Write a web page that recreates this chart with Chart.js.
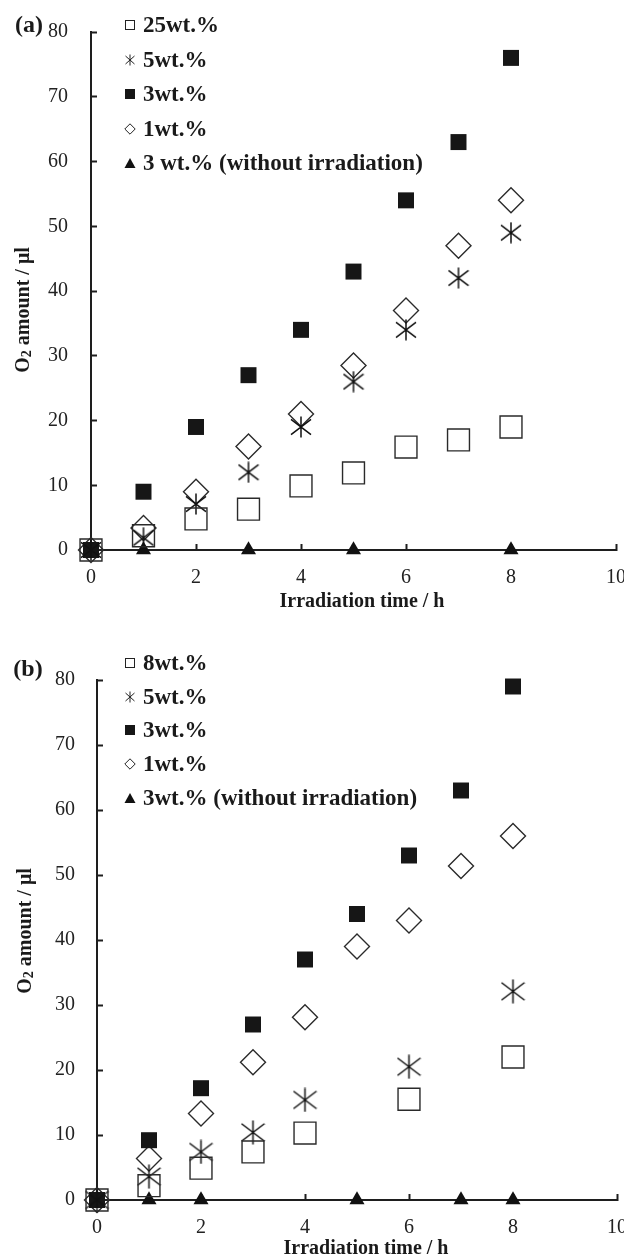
<!DOCTYPE html>
<html>
<head>
<meta charset="utf-8">
<script src="https://cdn.jsdelivr.net/npm/chart.js@4.4.0/dist/chart.umd.min.js"></script>
<style>
body{margin:0;background:#fff;width:624px;height:1258px;position:relative;overflow:hidden;font-family:"Liberation Serif","Times New Roman",serif;color:#1a1a1a}
.box{position:absolute;left:0;width:660px}
#boxA{top:-20px;height:640px}
#boxB{top:620px;height:638px}
.lbl{position:absolute;font-weight:bold;white-space:nowrap;transform:translate(-50%,-50%)}
.tag{font-size:24px}
.xt{font-size:20px}
.yt{font-size:20px;transform:translate(-50%,-50%) rotate(-90deg)}
.yt sub{font-size:0.7em;vertical-align:-0.2em;line-height:0}
.legend{position:absolute;left:124px;font-weight:bold;font-size:23px}
.legend div{display:flex;align-items:center;white-space:nowrap}
.legend svg{margin-right:7px;flex:none}
</style>
</head>
<body>
<div class="box" id="boxA"><canvas id="chartA"></canvas></div>
<div class="box" id="boxB"><canvas id="chartB"></canvas></div>

<div class="lbl tag" style="left:29px;top:24px">(a)</div>
<div class="lbl tag" style="left:28px;top:668px">(b)</div>
<div class="lbl yt" style="left:22px;top:310px">O<sub>2</sub> amount / μl</div>
<div class="lbl yt" style="left:24px;top:931px">O<sub>2</sub> amount / μl</div>
<div class="lbl xt" style="left:362px;top:600px">Irradiation time / h</div>
<div class="lbl xt" style="left:366px;top:1247px">Irradiation time / h</div>

<div class="legend" id="legA" style="top:8px"></div>
<div class="legend" id="legB" style="top:646px"></div>

<script>
// x values (irradiation time, h)
var hours = [0, 1, 2, 3, 4, 5, 6, 7, 8];

// panel (a)
var labelsA = ["25wt.%", "5wt.%", "3wt.%", "1wt.%", "3 wt.% (without irradiation)"];
var wt25A = [0, 2.2, 4.8, 6.3, 9.9, 11.9, 15.9, 17, 19];
var wt5A = [0, 1.9, 7.1, 12, 19, 26, 34, 42, 49];
var wt3A = [0, 9, 19, 27, 34, 43, 54, 63, 76];
var wt1A = [0, 3.4, 9, 16, 21, 28.5, 37, 47, 54];
var darkHoursA = [0, 1, 3, 5, 8];
var darkA = [0, 0, 0, 0, 0];

// panel (b)
var labelsB = ["8wt.%", "5wt.%", "3wt.%", "1wt.%", "3wt.% (without irradiation)"];
var hoursB8 = [0, 1, 2, 3, 4, 6, 8];
var wt8B = [0, 2.2, 4.9, 7.4, 10.3, 15.5, 22];
var wt5B = [0, 3.6, 7.4, 10.4, 15.4, 20.5, 32.1];
var wt3B = [0, 9.2, 17.2, 27, 37, 44, 53, 63, 79];
var wt1B = [0, 6.4, 13.3, 21.2, 28.1, 39, 43, 51.4, 56];
var darkHoursB = [0, 1, 2, 5, 7, 8];
var darkB = [0, 0, 0, 0, 0, 0];

var xTicks = [0, 2, 4, 6, 8, 10];
var yTicks = [0, 10, 20, 30, 40, 50, 60, 70, 80];

var ink = "#1e1e1e";

function pts(xs, ys) {
  return xs.map(function (x, i) { return { x: x, y: ys[i] }; });
}

// asterisk marker (X with a vertical bar)
function asterisk(size) {
  var c = document.createElement("canvas");
  c.width = size; c.height = size;
  var g = c.getContext("2d");
  g.strokeStyle = "#111";
  g.lineWidth = 1.5;
  g.beginPath();
  g.moveTo(size / 2, 0.5); g.lineTo(size / 2, size - 0.5);
  g.moveTo(1, size * 0.15); g.lineTo(size - 1, size * 0.85);
  g.moveTo(size - 1, size * 0.15); g.lineTo(1, size * 0.85);
  g.stroke();
  return c;
}

function makeChart(id, sets, opt) {
  var ch = new Chart(id, {
    type: "scatter",
    data: { datasets: sets },
    options: {
      animation: false,
      responsive: true,
      maintainAspectRatio: false,
      events: [],
      layout: { padding: { top: opt.top, right: 660 - opt.right, left: 0, bottom: 0 } },
      plugins: { legend: { display: false }, tooltip: { enabled: false } },
      scales: {
        x: {
          type: "linear", min: 0, max: 10,
          afterBuildTicks: function (s) { s.ticks = xTicks.map(function (v) { return { value: v }; }); },
          afterFit: function (s) { s.height = opt.xh; },
          border: { display: true, color: ink, width: 2 },
          grid: { drawOnChartArea: false, drawTicks: true, tickLength: -6, tickWidth: 2, color: ink },
          ticks: { color: "#222", padding: 22, maxRotation: 0, font: { family: "Liberation Serif", size: 20 } }
        },
        y: {
          type: "linear", min: 0, max: 80,
          afterBuildTicks: function (s) { s.ticks = yTicks.map(function (v) { return { value: v }; }); },
          afterFit: function (s) { s.width = opt.left; },
          border: { display: true, color: ink, width: 2 },
          grid: { drawOnChartArea: false, drawTicks: true, tickLength: -6, tickWidth: 2, color: ink },
          ticks: { color: "#222", padding: opt.ypad, font: { family: "Liberation Serif", size: 20 } }
        }
      }
    }
  });
  // nudge layout padding so the plot frame lands where the figure has it
  for (var k = 0; k < 3; k++) {
    var ca = ch.chartArea, p = ch.options.layout.padding;
    p.top += opt.top - ca.top;
    p.right += ca.right - opt.right;
    ch.update();
  }
  return ch;
}

function sets(openX, openY, astX, astY, fillY, diaY, darkX, darkY, astSize) {
  return [
    { label: "open", data: pts(openX, openY), pointStyle: "rect", pointRadius: 15.5, borderWidth: 1.4, borderColor: "#2a2a2a", backgroundColor: "rgba(0,0,0,0)", clip: false },
    { label: "ast", data: pts(astX, astY), pointStyle: asterisk(astSize), pointRadius: 11, clip: false },
    { label: "fill", data: pts(hours, fillY), pointStyle: "rect", pointRadius: 11.3, borderWidth: 0, backgroundColor: "#161616", clip: false },
    { label: "dia", data: pts(hours, diaY), pointStyle: "rectRot", pointRadius: 12.5, borderWidth: 1.4, borderColor: "#2a2a2a", backgroundColor: "rgba(0,0,0,0)", clip: false },
    { label: "dark", data: pts(darkX, darkY), pointStyle: "triangle", pointRadius: 8.7, borderWidth: 0, backgroundColor: "#111", clip: false }
  ];
}

// canvas A starts 20px above the page, so its frame top (80) sits at 32 on the page
makeChart("chartA",
  sets(hours, wt25A, hours, wt5A, wt3A, wt1A, darkHoursA, darkA, 22),
  { top: 52, right: 616, xh: 70, left: 91, ypad: 29 });

makeChart("chartB",
  sets(hoursB8, wt8B, hoursB8, wt5B, wt3B, wt1B, darkHoursB, darkB, 25),
  { top: 60, right: 617, xh: 58, left: 97, ypad: 28 });

// legends (HTML text with small marker icons)
var icons = [
  '<svg width="12" height="12"><rect x="1.5" y="1.5" width="9" height="9" fill="none" stroke="#222" stroke-width="1"/></svg>',
  '<svg width="12" height="12"><path d="M6 0.5V11.5M1.5 2L10.5 10M10.5 2L1.5 10" stroke="#222" stroke-width="1" fill="none"/></svg>',
  '<svg width="12" height="12"><rect x="1" y="1" width="10" height="10" fill="#161616"/></svg>',
  '<svg width="12" height="12"><path d="M6 0.8L11.2 6L6 11.2L0.8 6Z" fill="none" stroke="#222" stroke-width="1"/></svg>',
  '<svg width="12" height="12"><path d="M6 1L11.5 11H0.5Z" fill="#111"/></svg>'
];

function fillLegend(id, labels, rowH) {
  var el = document.getElementById(id);
  labels.forEach(function (t, i) {
    var row = document.createElement("div");
    row.style.height = rowH + "px";
    row.innerHTML = icons[i] + "<span>" + t + "</span>";
    el.appendChild(row);
  });
}
fillLegend("legA", labelsA, 34.5);
fillLegend("legB", labelsB, 33.7);
</script>
</body>
</html>
